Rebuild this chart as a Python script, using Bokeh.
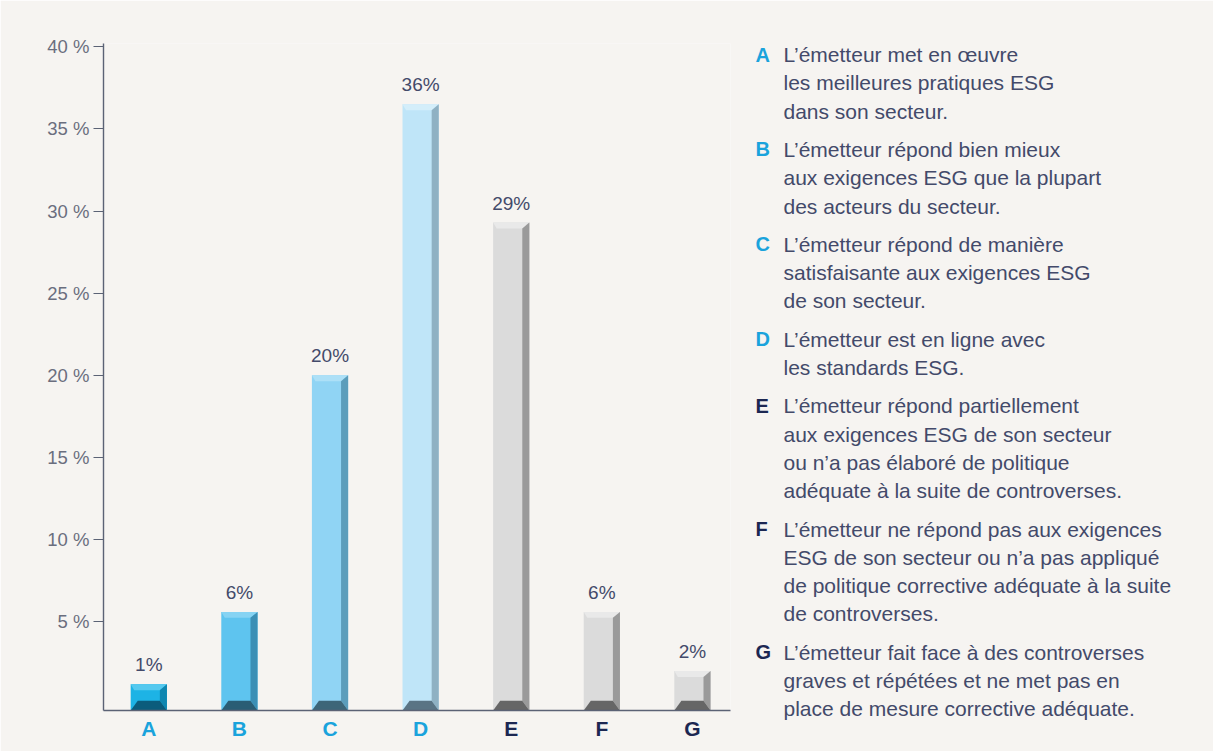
from bokeh.plotting import figure
from bokeh.models import Range1d, FixedTicker
from bokeh.core.properties import value
from bokeh.embed import file_html
from bokeh.resources import INLINE

# ---------------- data ----------------
categories = ["A", "B", "C", "D", "E", "F", "G"]
values = [1.2, 5.6, 20.0, 36.5, 29.3, 5.6, 2.0]
value_labels = ["1%", "6%", "20%", "36%", "29%", "6%", "2%"]
y_ticks = [5, 10, 15, 20, 25, 30, 35, 40]
y_tick_labels = ["5 %", "10 %", "15 %", "20 %", "25 %", "30 %", "35 %", "40 %"]

descriptions = [
    ["L\u2019émetteur met en œuvre", "les meilleures pratiques ESG", "dans son secteur."],
    ["L\u2019émetteur répond bien mieux", "aux exigences ESG que la plupart", "des acteurs du secteur."],
    ["L\u2019émetteur répond de manière", "satisfaisante aux exigences ESG", "de son secteur."],
    ["L\u2019émetteur est en ligne avec", "les standards ESG."],
    ["L\u2019émetteur répond partiellement", "aux exigences ESG de son secteur",
     "ou n\u2019a pas élaboré de politique", "adéquate à la suite de controverses."],
    ["L\u2019émetteur ne répond pas aux exigences", "ESG de son secteur ou n\u2019a pas appliqué",
     "de politique corrective adéquate à la suite", "de controverses."],
    ["L\u2019émetteur fait face à des controverses", "graves et répétées et ne met pas en",
     "place de mesure corrective adéquate."],
]

# ---------------- styles ----------------
BG = "#f6f4f1"
face_colors = ["#1db3e5", "#5ec4ef", "#90d4f4", "#bfe5f8", "#dbdbdb", "#dbdbdb", "#dbdbdb"]
top_colors = ["#55c9ef", "#86d3f3", "#ade0f7", "#d4eefa", "#e9e9e9", "#e9e9e9", "#e9e9e9"]
side_colors = ["#0f86b0", "#3c8fb5", "#5b9dbb", "#8fb1c3", "#9a9a9a", "#9a9a9a", "#9a9a9a"]
bottom_colors = ["#0b5c7c", "#2a5d74", "#3d6678", "#5a7484", "#666666", "#666666", "#666666"]
letter_colors = ["#1aa3dc", "#1aa3dc", "#1aa3dc", "#1aa3dc", "#1c2752", "#1c2752", "#1c2752"]
TEXT = "#434a6a"
FONT = "Liberation Sans"

BASE = -0.4
TOP = 40.2
X0, X1 = -0.5, 6.42
FRAME_TOP = 43
p = figure(width=1213, height=751, output_backend="svg", toolbar_location=None,
           x_range=Range1d(X0, X1), y_range=Range1d(BASE, TOP),
           min_border_left=103, min_border_right=483, min_border_top=FRAME_TOP, min_border_bottom=41)
p.background_fill_color = BG
p.border_fill_color = BG
p.outline_line_color = None
p.grid.visible = False

xs_pos = list(range(len(categories)))
W = 0.40     # bar width (x units)
S = 0.078    # side strip width
T = 0.36     # top bevel height
B = 0.6      # bottom bevel height

p.vbar(x=xs_pos, top=values, bottom=BASE, width=W, fill_color=face_colors, line_color=None)

top_x, top_y, side_x, side_y, bot_x, bot_y = [], [], [], [], [], []
for x, v in zip(xs_pos, values):
    x0, x1 = x - W / 2, x + W / 2
    xs = x1 - S
    top_x.append([x0, x1, xs, x0 + S * 0.5])
    top_y.append([v, v, v - T, v - T])
    side_x.append([xs, x1, x1, xs])
    side_y.append([v - T, v, BASE, BASE + B])
    bot_x.append([x0, x1, xs, x0 + S])
    bot_y.append([BASE, BASE, BASE + B, BASE + B])

p.patches(top_x, top_y, fill_color=top_colors, line_color=None)
p.patches(side_x, side_y, fill_color=side_colors, line_color=None)
p.patches(bot_x, bot_y, fill_color=bottom_colors, line_color=None)

# value labels
p.text(x=xs_pos, y=values, text=value_labels, text_align="center", text_baseline="bottom",
       y_offset=-9, text_font=value(FONT), text_font_size="19px", text_color=TEXT)

# category labels below axis (coloured individually)
p.text(x=xs_pos, y=[BASE] * len(xs_pos), text=categories, text_align="center", text_baseline="top",
       y_offset=6, text_font=value(FONT), text_font_size="21px", text_font_style="bold",
       text_color=letter_colors, level="overlay")

# axes
AX = "#5b6275"
p.yaxis.ticker = FixedTicker(ticks=y_ticks)
p.yaxis.major_label_overrides = {t: l for t, l in zip(y_ticks, y_tick_labels)}
p.yaxis.axis_line_color = AX
p.yaxis.axis_line_width = 1.4
p.yaxis.major_tick_line_color = AX
p.yaxis.major_tick_line_width = 1.2
p.yaxis.major_tick_in = 0
p.yaxis.major_tick_out = 10
p.yaxis.minor_tick_line_color = None
p.yaxis.major_label_standoff = 4
p.yaxis.major_label_text_font = FONT
p.yaxis.major_label_text_font_size = "18.5px"
p.yaxis.major_label_text_color = "#6a6e7e"

p.xaxis.ticker = FixedTicker(ticks=[])
p.xaxis.axis_line_color = AX
p.xaxis.axis_line_width = 1.4
p.xaxis.major_tick_line_color = None
p.xaxis.minor_tick_line_color = None
p.xaxis.major_label_text_font_size = "0px"

# ---------------- legend (in right border, anchored at frame's top-right corner) ----------------
LINE_H = 28.3
GAP = 10
LETTER_DX = 25
TEXT_DX = 53
y = 54
ly, lt, lc = [], [], []
ty, tt = [], []
for cat, col, lines in zip(categories, letter_colors, descriptions):
    ly.append(y - FRAME_TOP); lt.append(cat); lc.append(col)
    for i, line in enumerate(lines):
        ty.append(y + i * LINE_H - FRAME_TOP); tt.append(line)
    y += len(lines) * LINE_H + GAP

p.text(x=[X1] * len(lt), y=[TOP] * len(lt), x_offset=LETTER_DX, y_offset=ly, text=lt,
       text_color=lc, text_baseline="middle", text_font=value(FONT),
       text_font_size="20px", text_font_style="bold", level="overlay")
p.text(x=[X1] * len(tt), y=[TOP] * len(tt), x_offset=TEXT_DX, y_offset=ty, text=tt,
       text_color=TEXT, text_baseline="middle", text_font=value(FONT),
       text_font_size="21px", level="overlay")

open("out.html", "w").write(file_html(p, INLINE))
